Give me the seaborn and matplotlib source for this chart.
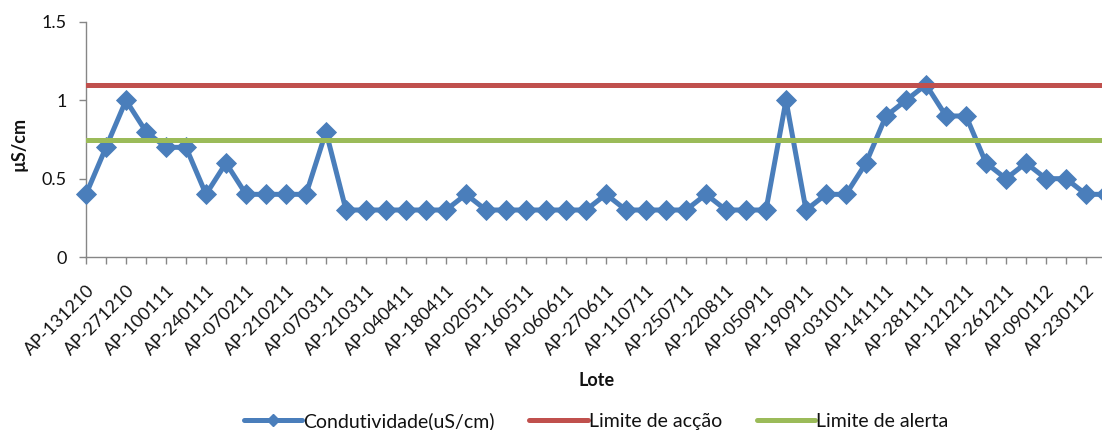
import numpy as np
import pandas as pd
import matplotlib
matplotlib.use("Agg")
import matplotlib.pyplot as plt
import seaborn as sns
from matplotlib.lines import Line2D

# ---- data ----
shown_labels = ["AP-131210", "AP-271210", "AP-100111", "AP-240111", "AP-070211",
                "AP-210211", "AP-070311", "AP-210311", "AP-040411", "AP-180411",
                "AP-020511", "AP-160511", "AP-060611", "AP-270611", "AP-110711",
                "AP-250711", "AP-220811", "AP-050911", "AP-190911", "AP-031011",
                "AP-141111", "AP-281111", "AP-121211", "AP-261211", "AP-090112",
                "AP-230112"]
condutividade = [0.4, 0.7, 1.0, 0.8, 0.7, 0.7, 0.4, 0.6, 0.4, 0.4, 0.4, 0.4, 0.8, 0.3,
                 0.3, 0.3, 0.3, 0.3, 0.3, 0.4, 0.3, 0.3, 0.3, 0.3, 0.3, 0.3, 0.4, 0.3,
                 0.3, 0.3, 0.3, 0.4, 0.3, 0.3, 0.3, 1.0, 0.3, 0.4, 0.4, 0.6,
                 0.9, 1.0, 1.1, 0.9, 0.9, 0.6, 0.5, 0.6, 0.5, 0.5, 0.4, 0.4]
limite_accao = 1.1
limite_alerta = 0.75
y_ticks = [0, 0.5, 1, 1.5]
y_tick_labels = ["0", "0.5", "1", "1.5"]

BLUE = "#4A7EBB"
RED = "#C0504D"
GREEN = "#9BBB59"
TXT = "#111111"
FS = 12.8

sns.set_theme(style="white")
plt.rcParams["font.family"] = ["Lato", "DejaVu Sans"]

df = pd.DataFrame({"idx": np.arange(len(condutividade)), "val": condutividade})

fig = plt.figure(figsize=(11.02, 4.30), dpi=100)
W, H = 1102, 430
x0, x1, ytop, ybot = 86, 1106, 22, 257
ax = fig.add_axes([x0 / W, (H - ybot) / H, (x1 - x0) / W, (ybot - ytop) / H])

sns.lineplot(data=df, x="idx", y="val", ax=ax, color=BLUE, linewidth=3.6,
             marker="D", markersize=10, markeredgecolor=BLUE, markeredgewidth=0.6,
             clip_on=False, zorder=2)
ax.axhline(limite_accao, color=RED, linewidth=3.6, zorder=3)
ax.axhline(limite_alerta, color=GREEN, linewidth=3.6, zorder=3)

n = len(condutividade)
ax.set_xlim(0, n - 1)
ax.set_ylim(0, 1.5)
ax.set_yticks(y_ticks)
ax.set_yticklabels(y_tick_labels, fontsize=13, color=TXT)
ax.set_xticks(np.arange(n))
xt = [""] * n
for i, lab in enumerate(shown_labels):
    xt[2 * i] = lab
ax.set_xticklabels(xt, rotation=45, ha="right", rotation_mode="anchor",
                   fontsize=FS, color=TXT)

for s in ["top", "right"]:
    ax.spines[s].set_visible(False)
for s in ["left", "bottom"]:
    ax.spines[s].set_color("#868686")
    ax.spines[s].set_linewidth(1.0)
    ax.spines[s].set_zorder(1)
ax.tick_params(axis="both", which="major", direction="out", length=5, width=1,
               color="#868686", bottom=True, left=True)
ax.tick_params(axis="x", pad=13)
ax.tick_params(axis="y", pad=9)
ax.grid(False)

ax.set_xlabel("")
ax.set_ylabel("")
fig.text(597 / W, 1 - 381 / H, "Lote", ha="center", va="center",
         fontsize=13, fontweight="bold", color=TXT)
fig.text(19 / W, 1 - 144 / H, "µS/cm", ha="center", va="center", rotation=90,
         fontsize=13, fontweight="bold", color=TXT)

handles = [
    Line2D([0], [0], color=BLUE, linewidth=3.6, marker="D", markersize=6.5),
    Line2D([0], [0], color=RED, linewidth=3.6),
    Line2D([0], [0], color=GREEN, linewidth=3.6),
]
labels = ["Condutividade(uS/cm)", "Limite de acção", "Limite de alerta"]
leg = fig.legend(handles, labels, loc="center", bbox_to_anchor=(596 / W, 1 - 421 / H),
                 ncol=3, frameon=False, fontsize=14, handlelength=3.0,
                 handletextpad=0.05, columnspacing=1.8)
for t in leg.get_texts():
    t.set_color(TXT)

fig.savefig("out.png", dpi=100)
